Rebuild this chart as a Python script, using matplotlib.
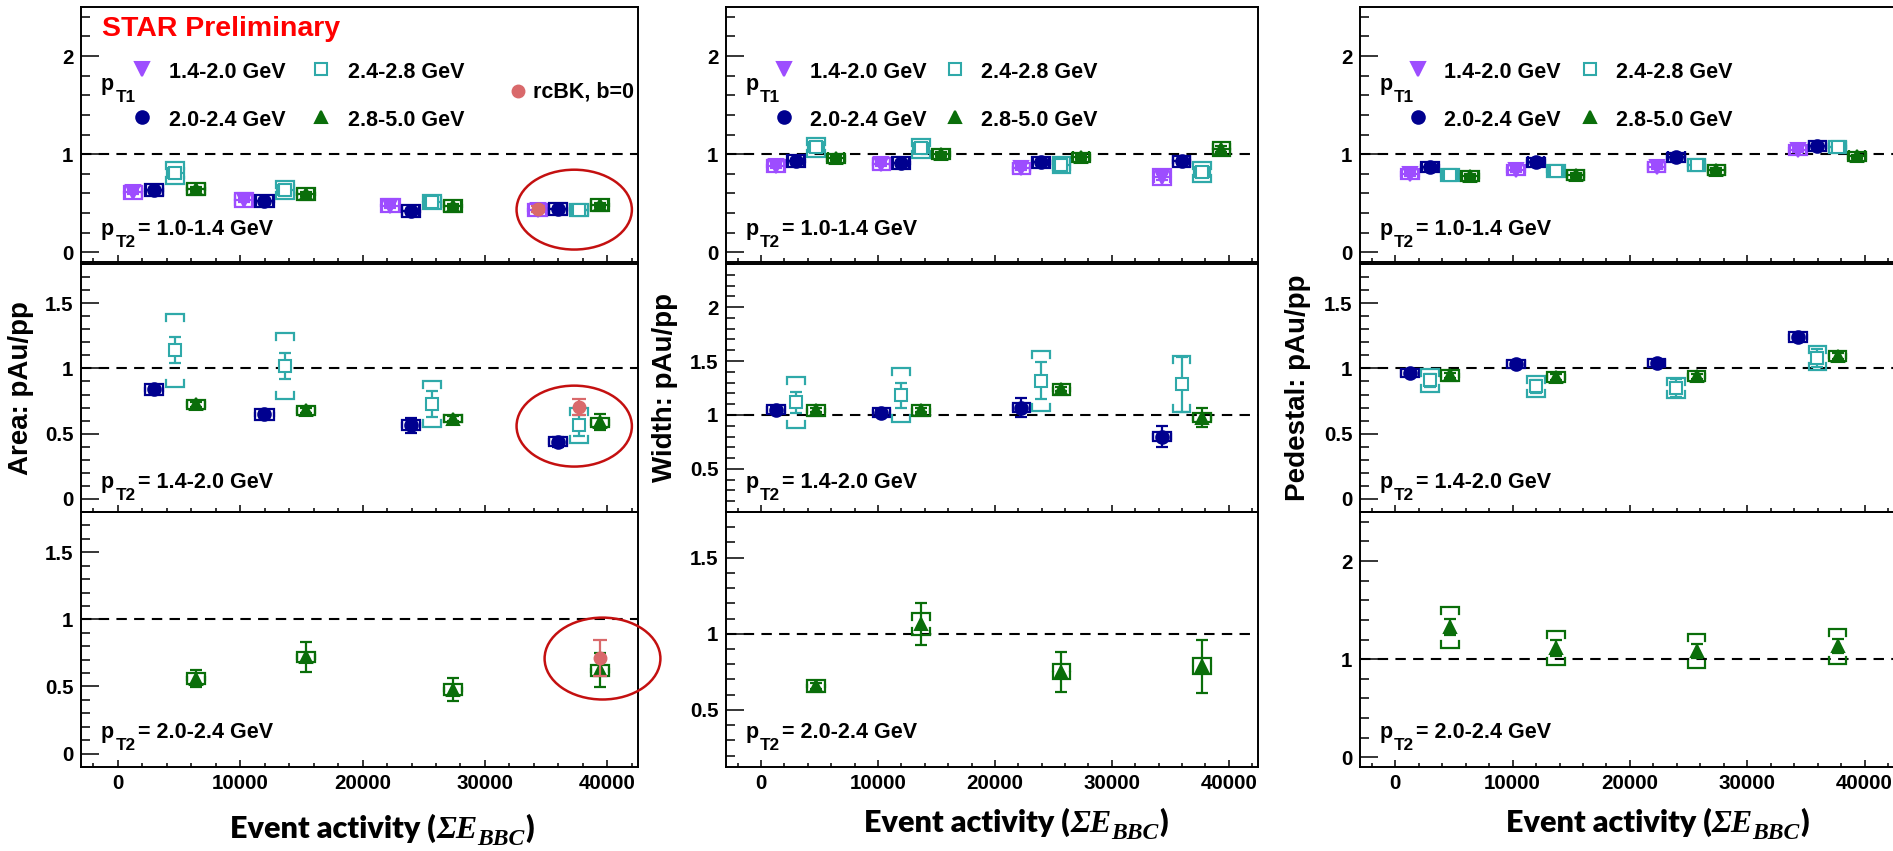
import numpy as np
import matplotlib
matplotlib.use('Agg')
import matplotlib.pyplot as plt
from matplotlib.patches import Ellipse
from matplotlib.ticker import MultipleLocator

plt.rcParams['font.family'] = ['Liberation Sans', 'DejaVu Sans']
plt.rcParams['font.weight'] = 'bold'

# ------------------------------------------------------------------ data
PT1_LABELS = ['1.4-2.0 GeV', '2.0-2.4 GeV', '2.4-2.8 GeV', '2.8-5.0 GeV']
PT2_LABELS = ['1.0-1.4 GeV', '1.4-2.0 GeV', '2.0-2.4 GeV']
OBS_LABELS = ['Area: pAu/pp', 'Width: pAu/pp', 'Pedestal: pAu/pp']
XTICKS = [0, 10000, 20000, 30000, 40000]

# event activity (sum E_BBC) of the four plotting slots inside each activity bin
EA_SLOTS = [[1270, 10290, 22270, 34300],
            [2980, 11980, 23950, 35970],
            [4690, 13690, 25680, 37690],
            [6390, 15370, 27370, 39370]]

# ---- Area, pT2 = 1.0-1.4 (series: pT1 bins 0..3)
A1_SERIES = [0, 1, 2, 3]
A1_SLOTS = [0, 1, 2, 3]
A1_Y = [[0.61, 0.53, 0.475, 0.434], [0.634, 0.525, 0.417, 0.44],
        [0.81, 0.637, 0.515, 0.434], [0.644, 0.593, 0.468, 0.485]]
A1_STAT = [[0.02, 0.02, 0.02, 0.02], [0.02, 0.02, 0.02, 0.02],
           [0.03, 0.03, 0.02, 0.02], [0.02, 0.02, 0.02, 0.02]]
A1_SYS = [[0.07, 0.07, 0.07, 0.06], [0.06, 0.06, 0.06, 0.06],
          [0.11, 0.09, 0.07, 0.06], [0.06, 0.06, 0.06, 0.06]]
# ---- Area, pT2 = 1.4-2.0
A2_SERIES = [1, 2, 3]
A2_SLOTS = [1, 2, 3]
A2_Y = [[0.839, 0.647, 0.565, 0.437], [1.138, 1.018, 0.729, 0.563], [0.724, 0.680, 0.616, 0.588]]
A2_STAT = [[0.02, 0.02, 0.057, 0.04], [0.10, 0.10, 0.10, 0.08], [0.02, 0.02, 0.02, 0.06]]
A2_SYS = [[0.045, 0.04, 0.04, 0.035], [0.28, 0.25, 0.178, 0.137], [0.035, 0.035, 0.03, 0.035]]
# ---- Area, pT2 = 2.0-2.4
A3_SERIES = [3]
A3_SLOTS = [3]
A3_Y = [[0.559, 0.718, 0.477, 0.621]]
A3_STAT = [[0.063, 0.11, 0.088, 0.128]]
A3_SYS = [[0.04, 0.037, 0.04, 0.04]]

# ---- Width, pT2 = 1.0-1.4
W1_SERIES = [0, 1, 2, 3]
W1_SLOTS = [0, 1, 2, 3]
W1_Y = [[0.881, 0.898, 0.854, 0.769], [0.932, 0.908, 0.915, 0.925],
        [1.068, 1.058, 0.888, 0.82], [0.956, 1.0, 0.966, 1.05]]
W1_STAT = [[0.02, 0.02, 0.02, 0.03], [0.02, 0.02, 0.02, 0.03],
           [0.03, 0.03, 0.03, 0.04], [0.02, 0.02, 0.02, 0.03]]
W1_SYS = [[0.06, 0.06, 0.06, 0.08], [0.06, 0.06, 0.06, 0.06],
          [0.10, 0.10, 0.08, 0.10], [0.05, 0.05, 0.05, 0.07]]
# ---- Width, pT2 = 1.4-2.0
W2_SERIES = [1, 2, 3]
W2_SLOTS = [0, 1, 2]
W2_Y = [[1.05, 1.022, 1.068, 0.80], [1.118, 1.183, 1.317, 1.283], [1.043, 1.043, 1.239, 0.975]]
W2_STAT = [[0.02, 0.02, 0.09, 0.098], [0.096, 0.116, 0.17, 0.255], [0.02, 0.02, 0.02, 0.085]]
W2_SYS = [[0.04, 0.04, 0.04, 0.04], [0.236, 0.25, 0.28, 0.26], [0.05, 0.05, 0.05, 0.04]]
# ---- Width, pT2 = 2.0-2.4
W3_SERIES = [3]
W3_SLOTS = [2]
W3_Y = [[0.656, 1.064, 0.75, 0.787]]
W3_STAT = [[0.02, 0.137, 0.133, 0.175]]
W3_SYS = [[0.04, 0.07, 0.05, 0.053]]

# ---- Pedestal, pT2 = 1.0-1.4
P1_SERIES = [0, 1, 2, 3]
P1_SLOTS = [0, 1, 2, 3]
P1_Y = [[0.797, 0.841, 0.871, 1.044], [0.871, 0.915, 0.966, 1.085],
        [0.786, 0.83, 0.892, 1.075], [0.773, 0.79, 0.837, 0.976]]
P1_STAT = [[0.02, 0.02, 0.02, 0.02], [0.02, 0.02, 0.02, 0.02],
           [0.02, 0.02, 0.02, 0.02], [0.02, 0.02, 0.02, 0.02]]
P1_SYS = [[0.05, 0.05, 0.05, 0.05], [0.05, 0.05, 0.05, 0.05],
          [0.06, 0.06, 0.06, 0.06], [0.05, 0.05, 0.05, 0.05]]
# ---- Pedestal, pT2 = 1.4-2.0
P2_SERIES = [1, 2, 3]
P2_SLOTS = [0, 1, 2]
P2_Y = [[0.967, 1.031, 1.043, 1.240], [0.908, 0.864, 0.852, 1.082], [0.946, 0.934, 0.941, 1.095]]
P2_STAT = [[0.01, 0.01, 0.01, 0.01], [0.05, 0.05, 0.07, 0.07], [0.02, 0.02, 0.02, 0.02]]
P2_SYS = [[0.03, 0.03, 0.03, 0.04], [0.087, 0.08, 0.077, 0.092], [0.04, 0.04, 0.04, 0.04]]
# ---- Pedestal, pT2 = 2.0-2.4
P3_SERIES = [3]
P3_SLOTS = [2]
P3_Y = [[1.325, 1.115, 1.081, 1.132]]
P3_STAT = [[0.08, 0.085, 0.07, 0.07]]
P3_SYS = [[0.21, 0.176, 0.173, 0.178]]

# rcBK (b=0) calculation, area only, highest activity bin
RCBK_Y = [0.44, 0.703, 0.71]
RCBK_ERR = [0.03, 0.06, 0.135]
RCBK_SLOT = [0, 2, 3]

# highlighting ellipses (area panels): centre x, centre y, width, height
ELL_X = [37290, 37290, 39600]
ELL_Y = [0.434, 0.558, 0.708]
ELL_W = [9420, 9420, 9460]
ELL_H = [0.814, 0.62, 0.61]

PANELS = [
    [(A1_SERIES, A1_SLOTS, A1_Y, A1_STAT, A1_SYS),
     (A2_SERIES, A2_SLOTS, A2_Y, A2_STAT, A2_SYS),
     (A3_SERIES, A3_SLOTS, A3_Y, A3_STAT, A3_SYS)],
    [(W1_SERIES, W1_SLOTS, W1_Y, W1_STAT, W1_SYS),
     (W2_SERIES, W2_SLOTS, W2_Y, W2_STAT, W2_SYS),
     (W3_SERIES, W3_SLOTS, W3_Y, W3_STAT, W3_SYS)],
    [(P1_SERIES, P1_SLOTS, P1_Y, P1_STAT, P1_SYS),
     (P2_SERIES, P2_SLOTS, P2_Y, P2_STAT, P2_SYS),
     (P3_SERIES, P3_SLOTS, P3_Y, P3_STAT, P3_SYS)],
]

# ------------------------------------------------------------------ style
COLORS = ['#9d4dff', '#00008f', '#2fa9a9', '#0a6e0a']
MARKERS = ['v', 'o', 's', '^']
MSIZES = [9.5, 9, 8.5, 9]
MFACES = [None, None, 'white', None]
RCBK_COLOR = '#d9696b'
ELL_COLOR = '#c41010'

YLIMS = [[(-0.1, 2.5), (-0.1, 1.8), (-0.1, 1.8)],
         [(-0.1, 2.5), (0.1, 2.4), (0.125, 1.8)],
         [(-0.1, 2.5), (-0.1, 1.8), (-0.1, 2.5)]]
YMAJ = [[1, 0.5, 0.5], [1, 0.5, 0.5], [1, 0.5, 1]]
XLIM = (-3000, 42500)

W, H = 1893, 851
COLS = [(81, 638), (726, 1258), (1360, 1894)]
ROWS = [(7, 262), (264, 512), (512, 767)]
PT2_BASE = [0.106, 0.097, 0.114]
FS_TXT = 15.5
FS_TICK = 14.8

fig = plt.figure(figsize=(W / 100, H / 100), dpi=100)


def add_ax(c, r):
    x0, x1 = COLS[c]
    y0, y1 = ROWS[r]
    ax = fig.add_axes([x0 / W, 1 - y1 / H, (x1 - x0) / W, (y1 - y0) / H])
    ax.set_facecolor('none')
    return ax


def draw_series(ax, xs, ys, stat, sys, k, tick_len, hw, xerr):
    col = COLORS[k]
    for x, y, s in zip(xs, ys, sys):
        for sg in (1, -1):
            yy = y + sg * s
            ax.plot([x - hw, x - hw, x + hw, x + hw],
                    [yy - sg * tick_len, yy, yy, yy - sg * tick_len],
                    color=col, lw=1.6, zorder=2, solid_joinstyle='miter')
    ax.errorbar(xs, ys, yerr=stat, xerr=xerr, fmt='none', ecolor=col,
                elinewidth=1.6, capsize=4.5, capthick=1.6, zorder=3)
    mfc = MFACES[k] if MFACES[k] else col
    ax.plot(xs, ys, ls='none', marker=MARKERS[k], ms=MSIZES[k], mfc=mfc,
            mec=col, mew=1.5, zorder=4)


def pt_label(ax, x, y, sub, rest, fs=FS_TXT):
    ax.text(x, y, 'p', transform=ax.transAxes, fontsize=fs, va='baseline', ha='left')
    ax.annotate(sub, xy=(x, y), xycoords='axes fraction', xytext=(fs * 0.66, -fs * 0.58),
                textcoords='offset points', fontsize=fs * 0.8, va='baseline', ha='left')
    if rest:
        ax.annotate(rest, xy=(x, y), xycoords='axes fraction', xytext=(fs * 1.72, 0),
                    textcoords='offset points', fontsize=fs, va='baseline', ha='left')


for c in range(3):
    for r in range(3):
        ax = add_ax(c, r)
        ylo, yhi = YLIMS[c][r]
        ax.set_xlim(*XLIM)
        ax.set_ylim(ylo, yhi)
        ax.xaxis.set_major_locator(MultipleLocator(10000))
        ax.xaxis.set_minor_locator(MultipleLocator(2000))
        ax.yaxis.set_major_locator(MultipleLocator(YMAJ[c][r]))
        ax.yaxis.set_minor_locator(MultipleLocator(0.2 if YMAJ[c][r] == 1 else 0.1))
        ax.tick_params(axis='y', which='major', direction='in', length=13, width=1.1,
                       labelsize=FS_TICK, pad=5.5, right=False)
        ax.tick_params(axis='y', which='minor', direction='in', length=6.5, width=1.1, right=False)
        ax.tick_params(axis='x', which='major', direction='in', length=5, width=1.1,
                       labelsize=FS_TICK, pad=5, top=False)
        ax.tick_params(axis='x', which='minor', direction='in', length=3, width=1.1, top=False)
        ax.set_xticks(XTICKS)
        if r < 2:
            ax.tick_params(axis='x', labelbottom=False)
        for sp in ax.spines.values():
            sp.set_linewidth(1.4)
        ax.yaxis.set_major_formatter(plt.FuncFormatter(lambda v, p: ('%g' % v)))

        ax.axhline(1.0, color='black', lw=1.5, ls=(0, (5, 3.5)), zorder=1)

        h_px = ROWS[r][1] - ROWS[r][0]
        tick_len = 7.0 * (yhi - ylo) / h_px
        series, slots, Y, STAT, SYS = PANELS[c][r]
        for i, k in enumerate(series):
            xs = EA_SLOTS[slots[i]]
            draw_series(ax, xs, Y[i], STAT[i], SYS[i], k, tick_len, 750,
                        700 if r == 0 else None)

        if c == 0:
            xr = EA_SLOTS[RCBK_SLOT[r]][3]
            ax.errorbar([xr], [RCBK_Y[r]], yerr=[RCBK_ERR[r]], fmt='o', color=RCBK_COLOR,
                        ms=9, elinewidth=1.6, capsize=5, capthick=1.6, zorder=5)
            ax.add_patch(Ellipse((ELL_X[r], ELL_Y[r]), ELL_W[r], ELL_H[r], fill=False,
                                 edgecolor=ELL_COLOR, lw=1.8, clip_on=False, zorder=6))

        pt_label(ax, 0.036, PT2_BASE[r], 'T2', '= ' + PT2_LABELS[r])

        if r == 0:
            pt_label(ax, 0.036, 0.675, 'T1', None)
            mx = [0.109, 0.109, 0.430, 0.430]
            my = [0.757, 0.569, 0.757, 0.569]
            tx = [0.158, 0.158, 0.480, 0.480]
            ty = [0.722, 0.533, 0.722, 0.533]
            for k in range(4):
                mfc = MFACES[k] if MFACES[k] else COLORS[k]
                ax.plot([mx[k]], [my[k]], transform=ax.transAxes, ls='none',
                        marker=MARKERS[k], ms=MSIZES[k], mfc=mfc, mec=COLORS[k],
                        mew=1.5, clip_on=False)
                ax.text(tx[k], ty[k], PT1_LABELS[k], transform=ax.transAxes,
                        fontsize=FS_TXT, va='baseline', ha='left')
            if c == 0:
                ax.plot([0.785], [0.671], transform=ax.transAxes, ls='none', marker='o',
                        ms=9, color=RCBK_COLOR, clip_on=False)
                ax.text(0.812, 0.647, 'rcBK, b=0', transform=ax.transAxes,
                        fontsize=FS_TXT, va='baseline', ha='left')
                ax.text(0.038, 0.886, 'STAR Preliminary', transform=ax.transAxes,
                        fontsize=20.5, color='#ff0000', va='baseline', ha='left')

# y labels
YL_X = [21, 665, 1298]
for c in range(3):
    fig.text(YL_X[c] / W, 1 - 388 / H, OBS_LABELS[c], rotation=90, fontsize=20,
             ha='center', va='center')

# x labels assembled from pieces
renderer = fig.canvas.get_renderer()
PIECES = [('Event activity (', dict(family='Lato', weight='heavy', size=22), 0),
          ('\u03a3E', dict(family='Liberation Serif', style='italic', weight='bold', size=23), 0),
          ('BBC', dict(family='Liberation Serif', style='italic', weight='bold', size=17), -7),
          (')', dict(family='Lato', weight='heavy', size=22), 0)]


def xlabel(cx, base):
    widths = []
    for s, kw, dy in PIECES:
        t = fig.text(0, 0, s, **kw)
        widths.append(t.get_window_extent(renderer).width)
        t.remove()
    x = cx - sum(widths) / 2
    for (s, kw, dy), w in zip(PIECES, widths):
        fig.text(x / W, 1 - (base - dy) / H, s, ha='left', va='baseline', **kw)
        x += w


XL_CX = [382, 1016, 1657]
XL_BASE = [838, 832, 832]
for c in range(3):
    xlabel(XL_CX[c], XL_BASE[c])

fig.savefig('out.png', dpi=100)
